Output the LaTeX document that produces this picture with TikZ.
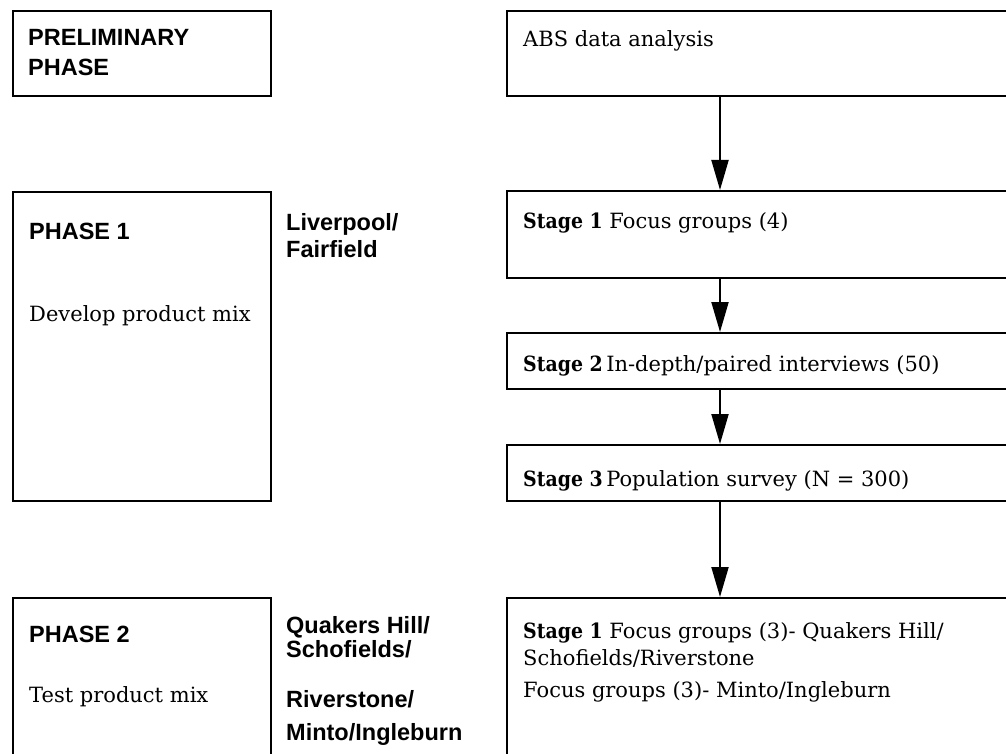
\documentclass[tikz,border=0pt]{standalone}
\usepackage{fontspec}
\setmainfont{DejaVu Serif}
\setsansfont{Liberation Sans}
\newfontfamily\stagefont{DejaVu Serif Condensed Bold}
\newcommand{\stagelbl}[1]{{\stagefont Stage #1}}
\usetikzlibrary{arrows.meta}

\begin{document}
\begin{tikzpicture}[x=1pt,y=-1pt,>={Triangle[length=30pt,width=17pt]},
  box/.style={draw,line width=2pt,anchor=north west,inner sep=0pt},
  hd/.style={anchor=base west,inner sep=0pt,font=\fontsize{23.5}{28}\selectfont\sffamily\bfseries},
  tx/.style={anchor=base west,inner sep=0pt,font=\fontsize{21}{26}\selectfont}]
\useasboundingbox (0,0) rectangle (1006,754);\clip (0,0) rectangle (1006,754);
\node[box,minimum width=258pt,minimum height=85pt] (prelim) at (12,10) {};
\node[box,minimum width=258pt,minimum height=309pt] (ph1) at (12,191) {};
\node[box,minimum width=258pt,minimum height=175pt] (ph2) at (12,597) {};
\node[box,minimum width=524pt,minimum height=85pt] (abs) at (506,10) {};
\node[box,minimum width=524pt,minimum height=87pt] (st1) at (506,190) {};
\node[box,minimum width=524pt,minimum height=56pt] (st2) at (506,332) {};
\node[box,minimum width=524pt,minimum height=56pt] (st3) at (506,444) {};
\node[box,minimum width=524pt,minimum height=175pt] (pst1) at (506,597) {};
\coordinate (ax) at (720,0);
\draw[->,line width=2pt] (abs.south -| ax)--(st1.north -| ax);\draw[->,line width=2pt] (st1.south -| ax)--(st2.north -| ax);
\draw[->,line width=2pt] (st2.south -| ax)--(st3.north -| ax);\draw[->,line width=2pt] (st3.south -| ax)--(pst1.north -| ax);
\node[hd] (prelimA) at (28,46){PRELIMINARY};\node[hd] (prelimB) at (28,76){PHASE};
\node[tx] (absT) at (523,47){ABS data analysis};
\node[hd] (ph1A) at (29,239){PHASE 1};\node[tx] (ph1B) at (29,321){Develop product mix};
\node[hd] (locA) at (286,230){Liverpool/};\node[hd] (locB) at (286,257){Fairfield};
\node[tx] (st1T) at (523,229){\stagelbl{1} Focus groups (4)};
\node[tx] (st2T) at (523,371){\stagelbl{2}\,In-depth/paired interviews (50)};
\node[tx] (st3T) at (523,486){\stagelbl{3}\,Population survey (N = 300)};
\node[hd] (ph2A) at (29,642){PHASE 2};\node[tx] (ph2B) at (29,702){Test product mix};
\node[hd] (locC) at (286,633){Quakers Hill/};\node[hd] (locD) at (286,657){Schofields/};
\node[hd] (locE) at (286,707){Riverstone/};\node[hd] (locF) at (286,740){Minto/Ingleburn};
\node[tx] (pstA) at (523,638){\stagelbl{1} Focus groups (3)- Quakers Hill/};
\node[tx] (pstB) at (523,665){Schofields/Riverstone};
\node[tx] (pstC) at (523,697){Focus groups (3)- Minto/Ingleburn};
\end{tikzpicture}
\end{document}
